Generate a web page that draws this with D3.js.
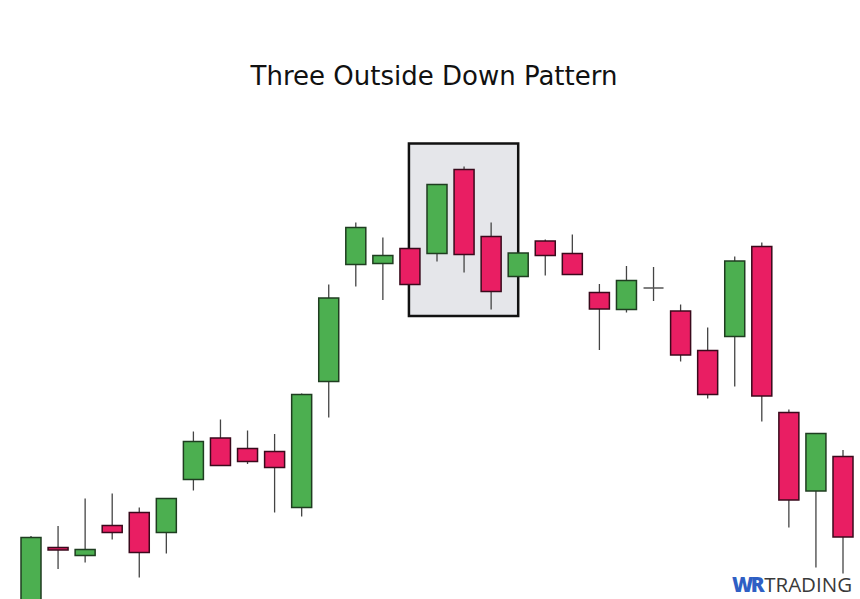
<!DOCTYPE html>
<html>
<head>
<meta charset="utf-8">
<script src="https://cdn.jsdelivr.net/npm/d3@7"></script>
<style>
  html, body { margin: 0; padding: 0; background: #ffffff; }
  svg { display: block; }
</style>
</head>
<body>
<svg id="chart" width="860" height="599"></svg>
<script>
// ---- data ----
const titleText = "Three Outside Down Pattern";
const candleIds = d3.range(1, 32).map(i => "C" + i);
const openVals  = [98.0, 110.5, 108.9, 114.9, 117.5, 113.5, 124.1, 132.4, 130.3, 129.7, 118.5, 143.7, 167.1, 167.3, 170.3, 169.3, 186.1, 172.7, 164.7, 171.8, 169.3, 161.5, 158.1, 162.4, 157.8, 149.9, 152.7, 170.7, 137.5, 121.8, 128.7];
const highVals  = [112.8, 114.8, 120.3, 121.3, 118.5, 120.4, 133.7, 136.1, 133.9, 133.2, 141.3, 163.1, 175.5, 172.5, 170.4, 183.2, 186.7, 175.5, 169.4, 172.1, 173.1, 163.2, 166.8, 166.6, 159.1, 154.5, 168.7, 171.5, 138.1, 133.4, 130.0];
const lowVals   = [96.0, 106.2, 107.5, 112.1, 104.5, 109.3, 121.9, 126.8, 127.2, 117.5, 116.7, 136.5, 162.7, 160.0, 163.1, 167.7, 165.5, 158.1, 164.7, 164.9, 165.1, 150.0, 157.5, 159.8, 147.7, 140.3, 142.7, 135.7, 114.5, 106.5, 105.3];
const closeVals = [112.5, 110.0, 110.1, 113.5, 109.5, 120.3, 131.7, 126.9, 127.7, 126.5, 141.1, 160.4, 174.5, 168.9, 163.1, 183.1, 169.1, 161.7, 169.4, 168.9, 165.1, 158.2, 163.9, 162.4, 149.0, 141.1, 167.8, 140.8, 120.0, 133.3, 112.6];
// highlighted pattern: from candle 15 centre to candle 19 centre
const highlightFrom = "C15";
const highlightTo = "C19";
const highlightTop = 191.3;
const highlightBottom = 156.8;
const watermarkA = "WR";
const watermarkB = "TRADING";

const candles = candleIds.map((id, i) => ({
  id, open: openVals[i], high: highVals[i], low: lowVals[i], close: closeVals[i]
}));

const W = 860, H = 599;
const svg = d3.select("#chart");

const x = d3.scalePoint().domain(candleIds).range([31, 843]);
const y = d3.scaleLinear().domain([100, 220]).range([600, 0]);
const bodyW = 20;

const GREEN = "#4caf50", RED = "#e91e63";

// title
svg.append("text")
  .attr("x", 434).attr("y", 85)
  .attr("text-anchor", "middle")
  .attr("font-family", "'DejaVu Sans', sans-serif")
  .attr("font-size", 26)
  .attr("fill", "#111")
  .text(titleText);

// highlight box
svg.append("rect")
  .attr("x", x(highlightFrom) - 1)
  .attr("y", y(highlightTop))
  .attr("width", x(highlightTo) - x(highlightFrom) + 1)
  .attr("height", y(highlightBottom) - y(highlightTop))
  .attr("fill", "#e5e6ea")
  .attr("stroke", "#111")
  .attr("stroke-width", 2.5);

const g = svg.append("g");
const c = g.selectAll("g.candle").data(candles).join("g").attr("class", "candle");

// wicks
c.append("line")
  .attr("x1", d => x(d.id)).attr("x2", d => x(d.id))
  .attr("y1", d => y(d.high)).attr("y2", d => y(d.low))
  .attr("stroke", "#444").attr("stroke-width", 1.3);

// bodies
c.filter(d => d.open !== d.close).append("rect")
  .attr("x", d => x(d.id) - bodyW / 2)
  .attr("y", d => y(Math.max(d.open, d.close)))
  .attr("width", bodyW)
  .attr("height", d => Math.max(1, Math.abs(y(d.open) - y(d.close))))
  .attr("fill", d => d.close > d.open ? GREEN : RED)
  .attr("stroke", d => d.close > d.open ? "#1f3d20" : "#3a0a1c")
  .attr("stroke-width", 1.5);

// doji
c.filter(d => d.open === d.close).append("line")
  .attr("x1", d => x(d.id) - bodyW / 2).attr("x2", d => x(d.id) + bodyW / 2)
  .attr("y1", d => y(d.open)).attr("y2", d => y(d.open))
  .attr("stroke", "#555").attr("stroke-width", 1.5);

// watermark
const wm = svg.append("text")
  .attr("x", 732).attr("y", 592)
  .attr("font-family", "'Open Sans', sans-serif")
  .attr("font-size", 20.5);
wm.append("tspan").attr("font-weight", 800).attr("fill", "#2f5fc4").attr("letter-spacing", -2.5).text(watermarkA);
wm.append("tspan").attr("fill", "#3a3a3a").attr("dx", 2).text(watermarkB);
</script>
</body>
</html>
